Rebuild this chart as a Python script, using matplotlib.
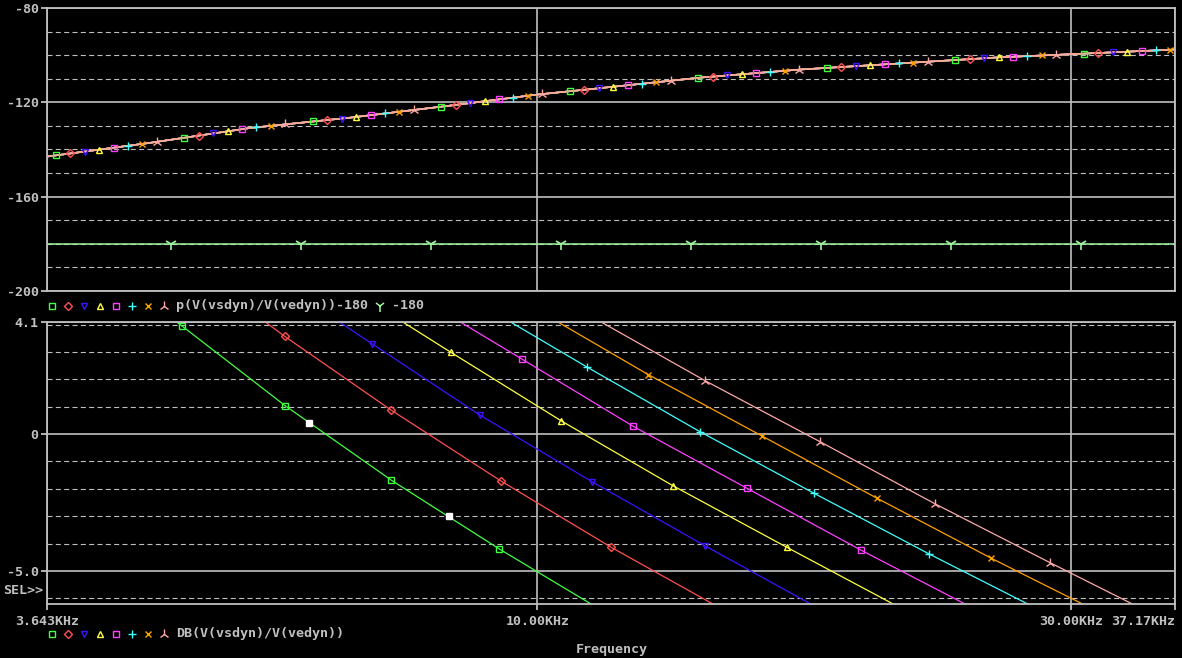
import numpy as np
import matplotlib
matplotlib.use("Agg")
import matplotlib.pyplot as plt
from matplotlib.lines import Line2D
from matplotlib.ticker import FixedLocator, NullLocator

# ---- data ----
# top: phase (deg) of all eight runs, they overlap
phase_freq = [3.643, 4.50, 5.53, 6.80, 8.35, 10.0, 11.26, 14.0, 17.17, 21.1, 25.9, 30.0, 37.17]
phase_deg = [-143.0, -137.2, -130.9, -126.5, -121.4, -116.7, -114.2, -109.5, -106.1, -103.5, -100.9, -99.6, -97.6]
ref_freq = [3.643, 37.17]
ref_deg = [-180, -180]

# bottom: magnitude (dB) of the eight runs, freq in kHz
f_green = [4.756, 4.813, 5.951, 7.405, 9.246, 11.168]
db_green = [4.1, 3.94, 1.03, -1.69, -4.20, -6.21]
f_red = [5.708, 5.943, 7.396, 9.272, 11.644, 14.354]
db_red = [4.1, 3.57, 0.88, -1.71, -4.14, -6.21]
f_blue = [6.646, 7.113, 8.885, 11.200, 14.131, 17.557]
db_blue = [4.1, 3.30, 0.69, -1.75, -4.09, -6.21]
f_yellow = [7.574, 8.365, 10.504, 13.221, 16.717, 20.805]
db_yellow = [4.1, 2.99, 0.48, -1.89, -4.14, -6.21]
f_magenta = [8.526, 9.695, 12.184, 15.409, 19.488, 24.125]
db_magenta = [4.1, 2.73, 0.28, -1.99, -4.25, -6.21]
f_cyan = [9.455, 11.083, 13.985, 17.686, 22.400, 27.445]
db_cyan = [4.1, 2.44, 0.08, -2.17, -4.38, -6.21]
f_orange = [10.424, 12.566, 15.893, 20.112, 25.466, 30.729]
db_orange = [4.1, 2.17, -0.08, -2.34, -4.54, -6.21]
f_pink = [11.394, 14.121, 17.896, 22.676, 28.738, 34.049]
db_pink = [4.1, 1.95, -0.28, -2.55, -4.70, -6.21]

# cursor points on the green trace
cursor_freq = [6.248, 8.336]
cursor_db = [0.41, -3.00]

x_ticks = [3.643, 10.0, 30.0, 37.17]
x_labels = ["3.643KHz", "10.00KHz", "30.00KHz", "37.17KHz"]
top_yticks = [-80, -120, -160, -200]
top_ylabels = ["-80", "-120", "-160", "-200"]
bot_yticks = [4.1, 0, -5.0]
bot_ylabels = ["4.1", "0", "-5.0"]

top_legend = "p(V(vsdyn)/V(vedyn))-180"
ref_legend = "-180"
bot_legend = "DB(V(vsdyn)/V(vedyn))"

# ---- style ----
colors = ["#40ff40", "#ff5050", "#4010ff", "#ffff40", "#ff40ff", "#40ffff", "#ffa000", "#ffa8a8"]
markers = ["s", "D", "v", "^", "s", "+", "x", "2"]
msizes = [4.5, 3.8, 4.8, 4.8, 4.5, 6, 5, 7.5]
ref_color = "#a0f8a0"
grey = "#c0c0c0"
font = dict(family="DejaVu Sans Mono", weight="bold", size=9.6, color=grey)

W, H = 1182, 658
fig = plt.figure(figsize=(W / 100, H / 100), dpi=100, facecolor="black")


def box(x0, y0, x1, y1):
    return [x0 / W, 1 - y1 / H, (x1 - x0) / W, (y1 - y0) / H]


def style_axes(ax, ylim, yticks, ylabels, yminor):
    ax.set_facecolor("black")
    ax.set_xscale("log")
    ax.set_xlim(x_ticks[0], x_ticks[-1])
    ax.set_ylim(*ylim)
    for s in ax.spines.values():
        s.set_color(grey)
        s.set_linewidth(1.3)
    ax.xaxis.set_major_locator(FixedLocator(x_ticks))
    ax.xaxis.set_minor_locator(NullLocator())
    ax.yaxis.set_major_locator(FixedLocator(yticks))
    ax.yaxis.set_minor_locator(FixedLocator(yminor))
    ax.set_yticklabels(ylabels, fontdict=font)
    ax.tick_params(axis="y", which="major", length=4, width=1.3, color=grey, pad=2)
    ax.tick_params(which="minor", length=0)
    ax.grid(True, which="major", color=grey, linewidth=1.2, linestyle="-")
    ax.grid(True, which="minor", axis="y", color=grey, linewidth=0.8, linestyle=(0, (4.5, 3)))
    ax.set_axisbelow(True)


mk_style = dict(markerfacecolor="none", markeredgewidth=1.0, linestyle="none")

# ---- top plot: phase ----
ax_top = fig.add_axes(box(47, 8, 1175, 291))
style_axes(ax_top, (-200, -80), top_yticks, top_ylabels,
           [v for v in range(-190, -80, 10) if v not in top_yticks])
ax_top.tick_params(axis="x", length=0, labelbottom=False)

ax_top.plot(ref_freq, ref_deg, color=ref_color, lw=1.1)
ref_marks = 4.705 * 1.3068 ** np.arange(8)
ax_top.plot(ref_marks, np.interp(np.log(ref_marks), np.log(ref_freq), ref_deg),
            marker="1", ms=9, color=ref_color, markeredgewidth=1.2, linestyle="none")

for c in colors:
    ax_top.plot(phase_freq, phase_deg, color=c, lw=1.1)
for i, (c, m, s) in enumerate(zip(colors, markers, msizes)):
    fm = 3.711 * 1.0301 ** i * 1.3029 ** np.arange(9)
    fm = fm[fm <= 37.17]
    ym = np.interp(np.log(fm), np.log(phase_freq), phase_deg)
    ax_top.plot(fm, ym, marker=m, ms=s, color=c, clip_on=False, **mk_style)

# ---- bottom plot: magnitude ----
ax_bot = fig.add_axes(box(47, 321.8, 1175, 604))
style_axes(ax_bot, (-6.21, 4.1), bot_yticks, bot_ylabels, [-6, -4, -3, -2, -1, 1, 2, 3, 4])
ax_bot.set_xticklabels(x_labels, fontdict=font)
ax_bot.tick_params(axis="x", which="major", length=4, width=1.3, color=grey, pad=4)
ax_bot.get_xticklabels()[-1].set_horizontalalignment("right")

traces = [(f_green, db_green), (f_red, db_red), (f_blue, db_blue), (f_yellow, db_yellow),
          (f_magenta, db_magenta), (f_cyan, db_cyan), (f_orange, db_orange), (f_pink, db_pink)]
for (f, db), c, m, s in zip(traces, colors, markers, msizes):
    ax_bot.plot(f, db, color=c, lw=0.9)
    ax_bot.plot(f[1:-1], db[1:-1], marker=m, ms=s, color=c, **mk_style)
ax_bot.plot(cursor_freq, cursor_db, marker="s", ms=4.5, color="white", linestyle="none")

# ---- legend rows and labels ----
def legend_row(y, label, extra=False):
    for k, (c, m, s) in enumerate(zip(colors, markers, msizes)):
        fig.add_artist(Line2D([(52 + 16 * k) / W], [1 - y / H], transform=fig.transFigure,
                              marker=m, ms=s, color=c, **mk_style))
    fig.text(176 / W, 1 - y / H, label, ha="left", va="center", fontdict=font)
    if extra:
        fig.add_artist(Line2D([380 / W], [1 - y / H], transform=fig.transFigure,
                              marker="1", ms=8, color=ref_color, markeredgewidth=1.1,
                              linestyle="none"))
        fig.text(392 / W, 1 - y / H, ref_legend, ha="left", va="center", fontdict=font)


legend_row(306, top_legend, extra=True)
legend_row(634, bot_legend)
fig.text(3 / W, 1 - 590 / H, "SEL>>", ha="left", va="center", fontdict=font)
fig.text(612 / W, 1 - 650 / H, "Frequency", ha="center", va="center", fontdict=font)

fig.savefig("out.png", dpi=100, facecolor="black")
